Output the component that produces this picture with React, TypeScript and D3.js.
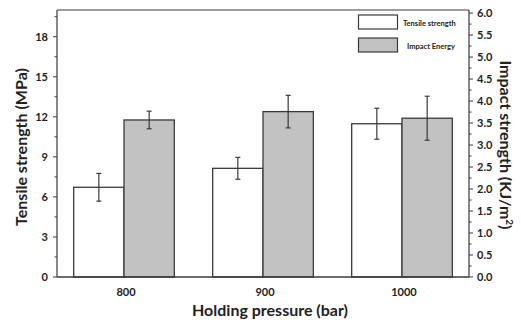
import * as d3 from 'd3'

const pressures = ['800', '900', '1000']
const tensile = [6.72, 8.14, 11.48]
const tensileErr = [1.04, 0.82, 1.16]
const impact = [3.57, 3.76, 3.61]
const impactErr = [0.2, 0.37, 0.5]
const leftTicks = [0, 3, 6, 9, 12, 15, 18]
const rightTicks = [0, 0.5, 1, 1.5, 2, 2.5, 3, 3.5, 4, 4.5, 5, 5.5, 6]
const legendLabels = ['Tensile strength', 'Impact Energy']

const W = 521
const H = 324
const m = { left: 57, right: 469, top: 10, bottom: 277 }
const font = 'Lato, "Open Sans", sans-serif'
const ink = '#3a3a3a'
const grayFill = '#c2c2c2'

export default function App() {
    const x = d3.scaleBand().domain(pressures).range([m.left, m.right]).paddingInner(0.276).paddingOuter(0.12)
    const yL = d3.scaleLinear().domain([0, 20]).range([m.bottom, m.top])
    const yR = d3.scaleLinear().domain([0, 6.07]).range([m.bottom, m.top])
    const bw = x.bandwidth() / 2

    const leftMinor = d3.range(1.5, 20, 3)
    const rightMinor = d3.range(0.25, 6.07, 0.5)

    const bars = pressures.flatMap((p, i) => [
        { x0: x(p), v: tensile[i], e: tensileErr[i], y: yL, fill: '#fff' },
        { x0: x(p) + bw, v: impact[i], e: impactErr[i], y: yR, fill: grayFill }
    ])

    return (
        <svg width={W} height={H} style={{ position: 'absolute', left: 0, top: 0 }} fontFamily={font}>
            {/* frame */}
            <line x1={m.left} x2={m.right} y1={m.top} y2={m.top} stroke={ink} strokeWidth={1.2} />
            <line x1={m.left} x2={m.left} y1={m.top} y2={m.bottom} stroke={ink} strokeWidth={1.2} />
            <line x1={m.right} x2={m.right} y1={m.top} y2={m.bottom} stroke={ink} strokeWidth={1.2} />

            {bars.map((b, i) => {
                const cx = b.x0 + bw / 2
                return (
                    <g key={i}>
                        <rect x={b.x0} y={b.y(b.v)} width={bw} height={m.bottom - b.y(b.v)}
                            fill={b.fill} stroke={ink} strokeWidth={1.3} />
                        <line x1={cx} x2={cx} y1={b.y(b.v + b.e)} y2={b.y(b.v - b.e)} stroke={ink} strokeWidth={1.2} />
                        <line x1={cx - 2.5} x2={cx + 2.5} y1={b.y(b.v + b.e)} y2={b.y(b.v + b.e)} stroke={ink} strokeWidth={1.2} />
                        <line x1={cx - 2.5} x2={cx + 2.5} y1={b.y(b.v - b.e)} y2={b.y(b.v - b.e)} stroke={ink} strokeWidth={1.2} />
                    </g>
                )
            })}

            {/* bottom axis line */}
            <line x1={m.left} x2={m.right} y1={m.bottom} y2={m.bottom} stroke={ink} strokeWidth={1.3} />

            {/* left axis */}
            {leftTicks.map(t => (
                <g key={t}>
                    <line x1={m.left - 4} x2={m.left} y1={yL(t)} y2={yL(t)} stroke={ink} />
                    <text x={m.left - 9} y={yL(t)} dy="0.35em" textAnchor="end" fontSize={11} fontWeight="bold" fill="#222">{t}</text>
                </g>
            ))}
            {leftMinor.map(t => (
                <line key={t} x1={m.left - 2.5} x2={m.left} y1={yL(t)} y2={yL(t)} stroke={ink} />
            ))}

            {/* right axis */}
            {rightTicks.map(t => (
                <g key={t}>
                    <line x1={m.right} x2={m.right + 4} y1={yR(t)} y2={yR(t)} stroke={ink} />
                    <text x={m.right + 8} y={yR(t)} dy="0.35em" textAnchor="start" fontSize={11} fontWeight="bold" fill="#222">{t.toFixed(1)}</text>
                </g>
            ))}
            {rightMinor.map(t => (
                <line key={t} x1={m.right} x2={m.right + 2.5} y1={yR(t)} y2={yR(t)} stroke={ink} />
            ))}

            {/* x tick labels */}
            {pressures.map(p => (
                <text key={p} x={x(p) + x.bandwidth() / 2 + 2} y={296} textAnchor="middle" fontSize={11} fontWeight="bold" fill="#222">{p}</text>
            ))}

            {/* axis titles */}
            <text x={270} y={316} textAnchor="middle" fontSize={16} fontWeight="bold" fill="#222">Holding pressure (bar)</text>
            <text transform="translate(27,147) rotate(-90)" textAnchor="middle" fontSize={16} fontWeight="bold" fill="#222">Tensile strength (MPa)</text>
            <text transform="translate(500,145) rotate(90)" textAnchor="middle" fontSize={16} fontWeight="bold" fill="#222">
                Impact strength (KJ/m<tspan dy="-6" fontSize={10}>2</tspan><tspan dy="6">)</tspan>
            </text>

            {/* legend */}
            {legendLabels.map((l, i) => (
                <g key={l}>
                    <rect x={358.5} y={15 + i * 23} width={39} height={14} fill={i === 0 ? '#fff' : grayFill} stroke={ink} strokeWidth={1.2} />
                    <text x={i === 0 ? 403 : 407} y={25.5 + i * 23} fontSize={7.5} fontWeight="bold" fill="#222">{l}</text>
                </g>
            ))}
        </svg>
    )
}
